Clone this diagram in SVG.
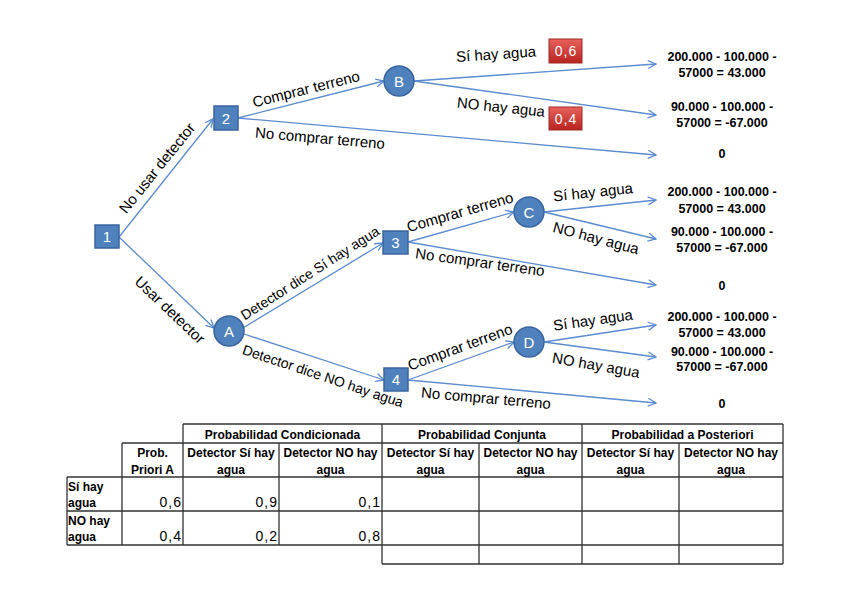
<svg xmlns="http://www.w3.org/2000/svg" width="848" height="599" viewBox="0 0 848 599">
<defs>
<marker id="arr" viewBox="0 0 10 10" refX="9" refY="5" markerWidth="10" markerHeight="10" markerUnits="userSpaceOnUse" orient="auto">
<path d="M1,1 L9,5 L1,9" fill="none" stroke="#5B8BD0" stroke-width="1.3"/>
</marker>
<linearGradient id="red" x1="0" y1="0" x2="0" y2="1">
<stop offset="0" stop-color="#E8625C"/>
<stop offset="1" stop-color="#B8231F"/>
</linearGradient>
</defs>
<style>
.ln{fill:none;stroke:#5B8BD0;stroke-width:1.3}
.nd{fill:#4F81BD;stroke:#3A64A0;stroke-width:1.5}
.nt{font-family:"Liberation Sans",Arial,sans-serif;font-size:15px;fill:#fff;text-anchor:middle}
.lb{font-family:"Liberation Sans",Arial,sans-serif;font-size:15px;fill:#000;text-anchor:middle}
.lbs{font-size:14px}
.out{font-family:"Liberation Sans",Arial,sans-serif;font-size:12.5px;font-weight:bold;fill:#000;text-anchor:middle}
.rb{fill:url(#red);stroke:#9E2A26;stroke-width:1}
.rt{font-family:"Liberation Sans",Arial,sans-serif;font-size:14px;letter-spacing:1px;fill:#fff;text-anchor:middle}
.tb{fill:none;stroke:#333;stroke-width:1.3}
.th{font-family:"Liberation Sans",Arial,sans-serif;font-size:12px;font-weight:bold;fill:#000;text-anchor:middle}
.tl{font-family:"Liberation Sans",Arial,sans-serif;font-size:12px;font-weight:bold;fill:#000}
.tv{font-family:"Liberation Sans",Arial,sans-serif;font-size:14px;letter-spacing:1px;fill:#000;text-anchor:end}
</style>
<rect width="848" height="599" fill="#fff"/>
<g id="connectors">
<line class="ln" x1="119" y1="237" x2="213" y2="119" marker-end="url(#arr)"/>
<line class="ln" x1="119" y1="237" x2="214" y2="328" marker-end="url(#arr)"/>
<line class="ln" x1="238" y1="118" x2="384" y2="81" marker-end="url(#arr)"/>
<line class="ln" x1="238" y1="118" x2="656" y2="155" marker-end="url(#arr)"/>
<line class="ln" x1="414" y1="81" x2="656" y2="64" marker-end="url(#arr)"/>
<line class="ln" x1="414" y1="81" x2="656" y2="115" marker-end="url(#arr)"/>
<line class="ln" x1="243" y1="328" x2="383" y2="243" marker-end="url(#arr)"/>
<line class="ln" x1="244" y1="334" x2="384" y2="380" marker-end="url(#arr)"/>
<line class="ln" x1="408" y1="242" x2="514" y2="212" marker-end="url(#arr)"/>
<line class="ln" x1="408" y1="242" x2="656" y2="285" marker-end="url(#arr)"/>
<line class="ln" x1="544" y1="212" x2="656" y2="200" marker-end="url(#arr)"/>
<line class="ln" x1="544" y1="212" x2="656" y2="239" marker-end="url(#arr)"/>
<line class="ln" x1="408" y1="380" x2="514" y2="342" marker-end="url(#arr)"/>
<line class="ln" x1="408" y1="380" x2="656" y2="403" marker-end="url(#arr)"/>
<line class="ln" x1="544" y1="342" x2="656" y2="325" marker-end="url(#arr)"/>
<line class="ln" x1="544" y1="342" x2="656" y2="357" marker-end="url(#arr)"/>
</g>
<g id="labels">
<text class="lb" transform="translate(157,168) rotate(-51)" dy="0.35em">No usar detector</text>
<text class="lb" transform="translate(170,310) rotate(43.5)" dy="0.35em">Usar detector</text>
<text class="lb" transform="translate(306,89) rotate(-14)" dy="0.35em">Comprar terreno</text>
<text class="lb" transform="translate(320,138) rotate(5)" dy="0.35em">No comprar terreno</text>
<text class="lb" transform="translate(496,54) rotate(-4)" dy="0.35em">Sí hay agua</text>
<text class="lb" transform="translate(501,107) rotate(6)" dy="0.35em">NO hay agua</text>
<text class="lb lbs" transform="translate(310,273) rotate(-32.6)" dy="0.35em">Detector dice Sí hay agua</text>
<text class="lb lbs" transform="translate(323,376) rotate(18.6)" dy="0.35em">Detector dice NO hay agua</text>
<text class="lb" transform="translate(460,212) rotate(-16)" dy="0.35em">Comprar terreno</text>
<text class="lb" transform="translate(480,262) rotate(8)" dy="0.35em">No comprar terreno</text>
<text class="lb" transform="translate(593,192) rotate(-6)" dy="0.35em">Sí hay agua</text>
<text class="lb" transform="translate(596,238) rotate(15)" dy="0.35em">NO hay agua</text>
<text class="lb" transform="translate(460,347) rotate(-20)" dy="0.35em">Comprar terreno</text>
<text class="lb" transform="translate(486,398) rotate(5)" dy="0.35em">No comprar terreno</text>
<text class="lb" transform="translate(593,320) rotate(-8)" dy="0.35em">Sí hay agua</text>
<text class="lb" transform="translate(596,365) rotate(10)" dy="0.35em">NO hay agua</text>
</g>
<g id="node-1"><rect class="nd" x="95" y="225" width="24" height="23"/><text class="nt" x="107" y="242">1</text></g>
<g id="node-2"><rect class="nd" x="214" y="106" width="24" height="24"/><text class="nt" x="226" y="123.5">2</text></g>
<g id="node-3"><rect class="nd" x="383" y="231" width="25" height="23"/><text class="nt" x="395.5" y="248">3</text></g>
<g id="node-4"><rect class="nd" x="384" y="368" width="24" height="23"/><text class="nt" x="396" y="385">4</text></g>
<g id="node-B"><circle class="nd" cx="399" cy="81" r="15"/><text class="nt" x="399" y="86.5">B</text></g>
<g id="node-A"><circle class="nd" cx="229" cy="331" r="15"/><text class="nt" x="229" y="336.5">A</text></g>
<g id="node-C"><circle class="nd" cx="529" cy="212" r="15"/><text class="nt" x="529" y="217.5">C</text></g>
<g id="node-D"><circle class="nd" cx="529" cy="342" r="15"/><text class="nt" x="529" y="347.5">D</text></g>
<g id="prob-06"><rect class="rb" x="549" y="39" width="33" height="24"/><text class="rt" x="566" y="56">0,6</text></g>
<g id="prob-04"><rect class="rb" x="549" y="107" width="33" height="23"/><text class="rt" x="566" y="124">0,4</text></g>
<g id="outcomes">
<text class="out" x="722" y="61">200.000 - 100.000 -</text>
<text class="out" x="722" y="77">57000 = 43.000</text>
<text class="out" x="722" y="111">90.000 - 100.000 -</text>
<text class="out" x="722" y="127">57000 = -67.000</text>
<text class="out" x="722" y="158">0</text>
<text class="out" x="722" y="196">200.000 - 100.000 -</text>
<text class="out" x="722" y="213">57000 = 43.000</text>
<text class="out" x="722" y="236">90.000 - 100.000 -</text>
<text class="out" x="722" y="252">57000 = -67.000</text>
<text class="out" x="722" y="290">0</text>
<text class="out" x="722" y="321">200.000 - 100.000 -</text>
<text class="out" x="722" y="337">57000 = 43.000</text>
<text class="out" x="722" y="356">90.000 - 100.000 -</text>
<text class="out" x="722" y="371">57000 = -67.000</text>
<text class="out" x="722" y="408">0</text>
</g>
<g id="table">
<path class="tb" d="M183,424 H783 M122,443 H783 M67,477 H783 M67,511 H783 M67,545 H783 M382,564 H783
M67,477 V545 M122,443 V545 M183,424 V545 M279,443 V545 M382,424 V564 M479,443 V564 M582,424 V564 M679,443 V564 M783,424 V564"/>
<text class="th" x="282.5" y="439">Probabilidad Condicionada</text>
<text class="th" x="482" y="439">Probabilidad Conjunta</text>
<text class="th" x="682.5" y="439">Probabilidad a Posteriori</text>
<text class="th" x="152.5" y="457">Prob.</text>
<text class="th" x="152.5" y="474">Priori A</text>
<text class="th" x="231" y="457">Detector Sí hay</text>
<text class="th" x="231" y="474">agua</text>
<text class="th" x="330.5" y="457">Detector NO hay</text>
<text class="th" x="330.5" y="474">agua</text>
<text class="th" x="430.5" y="457">Detector Sí hay</text>
<text class="th" x="430.5" y="474">agua</text>
<text class="th" x="530.5" y="457">Detector NO hay</text>
<text class="th" x="530.5" y="474">agua</text>
<text class="th" x="630.5" y="457">Detector Sí hay</text>
<text class="th" x="630.5" y="474">agua</text>
<text class="th" x="731" y="457">Detector NO hay</text>
<text class="th" x="731" y="474">agua</text>
<text class="tl" x="68" y="491">Sí hay</text>
<text class="tl" x="68" y="507">agua</text>
<text class="tl" x="68" y="525">NO hay</text>
<text class="tl" x="68" y="541">agua</text>
<text class="tv" x="182" y="507">0,6</text>
<text class="tv" x="278" y="507">0,9</text>
<text class="tv" x="381" y="507">0,1</text>
<text class="tv" x="182" y="541">0,4</text>
<text class="tv" x="278" y="541">0,2</text>
<text class="tv" x="381" y="541">0,8</text>
</g>
</svg>
